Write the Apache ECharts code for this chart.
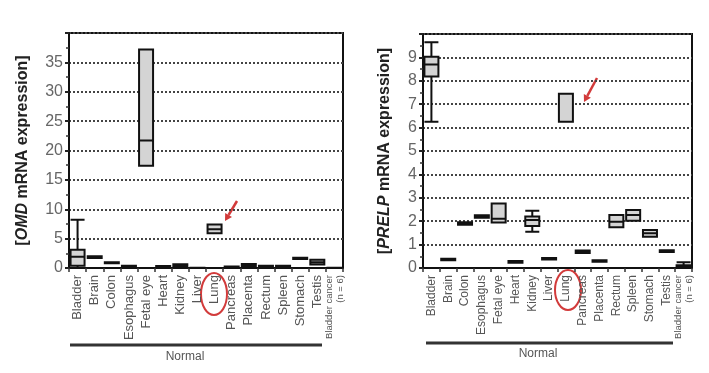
<!DOCTYPE html>
<html>
<head>
<meta charset="utf-8">
<script src="https://cdn.jsdelivr.net/npm/echarts@6/dist/echarts.min.js"></script>
<style>
  html, body { margin: 0; padding: 0; background: #fff; }
  #chart { width: 709px; height: 373px; }
</style>
</head>
<body>
<div id="chart"></div>
<script>
// tissues on the x axis (same order in both panels)
const tissues = [
  "Bladder", "Brain", "Colon", "Esophagus", "Fetal eye", "Heart", "Kidney", "Liver",
  "Lung", "Pancreas", "Placenta", "Rectum", "Spleen", "Stomach", "Testis", "Bladder cancer\n(n = 6)"
];

// [min, q1, median, q3, max]
const omdBoxes = [
  [0, 0.4, 1.9, 3.1, 8.2],
  [1.7, 1.7, 1.85, 2.0, 2.0],
  [0.8, 0.8, 0.9, 1.0, 1.0],
  [0.15, 0.15, 0.3, 0.4, 0.4],
  [17.4, 17.4, 21.7, 37.2, 37.2],
  [0.15, 0.15, 0.25, 0.35, 0.35],
  [0.25, 0.25, 0.45, 0.65, 0.65],
  [0, 0, 0.02, 0.05, 0.05],
  [5.9, 5.9, 6.6, 7.4, 7.4],
  [0.05, 0.05, 0.15, 0.25, 0.25],
  [0.25, 0.25, 0.45, 0.7, 0.7],
  [0.1, 0.1, 0.25, 0.4, 0.4],
  [0.1, 0.1, 0.25, 0.4, 0.4],
  [1.55, 1.55, 1.65, 1.75, 1.75],
  [0.6, 0.6, 1.0, 1.4, 1.4],
  [0, 0, 0.02, 0.05, 0.05]
];

const prelpBoxes = [
  [6.25, 8.18, 8.7, 9.03, 9.65],
  [0.33, 0.33, 0.37, 0.4, 0.4],
  [1.85, 1.85, 1.9, 1.95, 1.95],
  [2.15, 2.15, 2.2, 2.25, 2.25],
  [1.94, 1.94, 2.1, 2.76, 2.76],
  [0.22, 0.22, 0.25, 0.3, 0.3],
  [1.55, 1.8, 2.05, 2.2, 2.45],
  [0.36, 0.36, 0.4, 0.43, 0.43],
  [6.25, 6.25, 7.45, 7.45, 7.45],
  [0.64, 0.64, 0.7, 0.75, 0.75],
  [0.27, 0.27, 0.3, 0.33, 0.33],
  [1.74, 1.74, 1.98, 2.26, 2.26],
  [2.02, 2.02, 2.26, 2.48, 2.48],
  [1.34, 1.34, 1.48, 1.62, 1.62],
  [0.68, 0.68, 0.72, 0.76, 0.76],
  [0, 0.03, 0.08, 0.12, 0.25]
];

const omdTicks = { min: 0, max: 40, step: 5 };
const prelpTicks = { min: 0, max: 10, step: 1 };

const FONT = "Liberation Sans, Arial, sans-serif";
const RED = "#d23b3b";

function xAxisFor(gridIndex, size) {
  return {
    type: "category",
    gridIndex,
    data: tissues,
    axisLine: { lineStyle: { color: "#111", width: 2 } },
    axisTick: { show: true, length: 4, lineStyle: { color: "#333", width: 1.5 } },
    axisLabel: {
      rotate: 90,
      interval: 0,
      margin: 7,
      color: "#555",
      fontFamily: FONT,
      fontSize: size,
      lineHeight: 11,
      formatter: (v) => v.indexOf("\n") >= 0
        ? v.split("\n").map((s) => "{s|" + s + "}").join("\n")
        : v,
      rich: { s: { fontSize: 9.5, lineHeight: 11, color: "#555", fontFamily: FONT } }
    },
    splitLine: { show: false }
  };
}

function yAxisFor(gridIndex, ticks, gene, gap) {
  return {
    type: "value",
    gridIndex,
    min: ticks.min,
    max: ticks.max,
    interval: ticks.step,
    name: "{b|[}{i|" + gene + "}{b| mRNA expression]}",
    nameLocation: "middle",
    nameRotate: 90,
    nameGap: gap,
    nameTextStyle: {
      rich: {
        b: { fontFamily: FONT, fontSize: 16, fontWeight: "bold", color: "#222" },
        i: { fontFamily: FONT, fontSize: 16, fontWeight: "bold", fontStyle: "italic", color: "#222" }
      }
    },
    axisLine: { show: true, lineStyle: { color: "#111", width: 2 } },
    axisTick: { show: true, length: 4, lineStyle: { color: "#222", width: 2 } },
    minorTick: { show: true, splitNumber: 2, length: 3, lineStyle: { color: "#333", width: 1.5 } },
    axisLabel: {
      color: "#666",
      fontFamily: FONT,
      fontSize: 16,
      margin: 6,
      formatter: (v) => (v === ticks.max ? "" : String(v))
    },
    splitLine: { show: true, lineStyle: { color: "#444", width: 2, type: [2, 2] } }
  };
}

function boxSeries(idx, data) {
  return {
    type: "boxplot",
    xAxisIndex: idx,
    yAxisIndex: idx,
    data,
    boxWidth: [14, 15],
    itemStyle: { color: "#d4d4d4", borderColor: "#111", borderWidth: 2 },
    emphasis: { disabled: true },
    silent: true
  };
}

function arrow(x1, y1, x2, y2) {
  const dx = x2 - x1, dy = y2 - y1;
  const len = Math.sqrt(dx * dx + dy * dy);
  const ux = dx / len, uy = dy / len;
  const bx = x2 - 7 * ux, by = y2 - 7 * uy;
  return [
    { type: "line", shape: { x1, y1, x2: bx, y2: by }, style: { stroke: RED, lineWidth: 2.5 } },
    {
      type: "polygon",
      shape: { points: [[x2, y2], [bx - 4 * uy, by + 4 * ux], [bx + 4 * uy, by - 4 * ux]] },
      style: { fill: RED }
    }
  ];
}

const chart = echarts.init(document.getElementById("chart"));
chart.setOption({
  backgroundColor: "#fff",
  animation: false,
  grid: [
    { left: 69, top: 33, width: 274, height: 235, show: true, borderColor: "#111", borderWidth: 2 },
    { left: 423, top: 34, width: 269, height: 234, show: true, borderColor: "#111", borderWidth: 2 }
  ],
  xAxis: [xAxisFor(0, 13), xAxisFor(1, 12)],
  yAxis: [yAxisFor(0, omdTicks, "OMD", 38), yAxisFor(1, prelpTicks, "PRELP", 30)],
  series: [boxSeries(0, omdBoxes), boxSeries(1, prelpBoxes)],
  graphic: [
    { type: "line", shape: { x1: 70, y1: 345, x2: 322, y2: 345 }, style: { stroke: "#333", lineWidth: 3 } },
    { type: "text", x: 185, y: 357, style: { text: "Normal", font: "12px " + FONT, fill: "#555", align: "center", verticalAlign: "middle" } },
    { type: "line", shape: { x1: 426, y1: 343, x2: 673, y2: 343 }, style: { stroke: "#333", lineWidth: 3 } },
    { type: "text", x: 538, y: 354, style: { text: "Normal", font: "12px " + FONT, fill: "#555", align: "center", verticalAlign: "middle" } },
    { type: "ellipse", shape: { cx: 214, cy: 294, rx: 13, ry: 21 }, style: { fill: "none", stroke: RED, lineWidth: 2 } },
    { type: "ellipse", shape: { cx: 568, cy: 290, rx: 13, ry: 20 }, style: { fill: "none", stroke: RED, lineWidth: 2 } },
    ...arrow(237, 201, 225, 221),
    ...arrow(597, 78, 584, 102)
  ]
});
</script>
</body>
</html>
